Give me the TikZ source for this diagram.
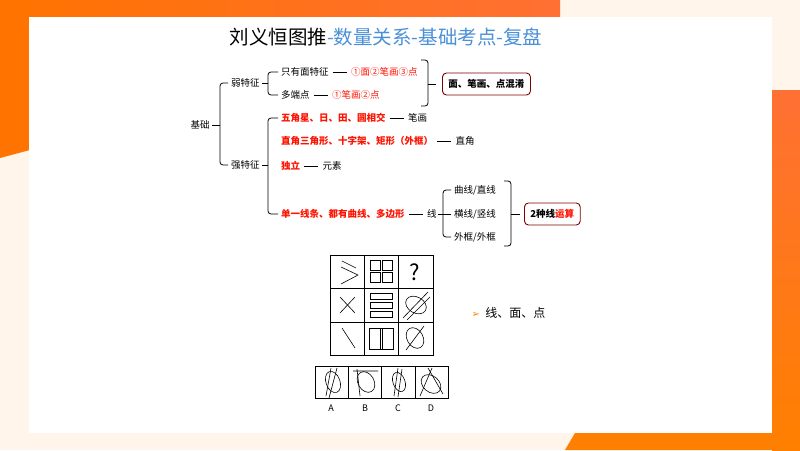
\documentclass[tikz,border=0pt]{standalone}
\usepackage{fontspec}
\setmainfont{Noto Sans CJK SC}
\newfontfamily\djv{DejaVu Sans}
\begin{document}
\begin{tikzpicture}[x=1pt,y=-1pt,
  t/.style={font=\fontsize{9.5}{11}\selectfont,inner sep=1pt,anchor=west},
  r/.style={t,text=red!85!orange},
  ln/.style={line width=0.7pt},
  br/.style={line width=0.8pt,rounded corners=3pt},
  sbox/.style={draw=red!50!black,line width=0.9pt,rounded corners=4pt,font=\fontsize{9.5}{11}\selectfont\bfseries,minimum height=22pt,inner xsep=6pt},
  g/.style={line width=0.9pt},
  fig/.style={line width=0.6pt}]
\useasboundingbox (0,0) rectangle (800,450);
\fill[orange!8] (0,0) rectangle (800,450);
\shade[left color=orange!90!red,right color=orange!60!red!80] (0,0) rectangle (560,17);
\fill[orange!90!red] (0,0) -- (30,0) -- (30,150) -- (0,158) -- cycle;
\fill[orange] (565,450) -- (800,450) -- (800,433) -- (575,433) -- cycle;
\shade[top color=orange!60!red!80,bottom color=orange] (772,90) rectangle (800,450);
\fill[white] (29,17) rectangle (772,433);
% title
\node (title) at (386,37) {\fontsize{19.5}{22}\selectfont 刘义恒图推\textcolor[HTML]{4A90D9}{-数量关系-基础考点-复盘}};
% mind map
\node[t,anchor=center] (jc) at (200,125) {基础};
\node[t] (rt) at (230,83) {弱特征};
\node[t] (qt) at (230,165) {强特征};
\draw[br] (212,125) -- (220,125);
\draw[br] (228,83) -| (220,165) -- (228,165);
% weak
\draw[br] (262,83) -- (268,83);
\draw[br] (278,72) -| (268,95) -- (278,95);
\node[t] (w1) at (280,72) {只有面特征};
\node[r] (w1r) at ([xshift=20pt]w1.east) {①面②笔画③点};
\draw[ln] ([xshift=3pt]w1.east) -- ([xshift=-3pt]w1r.west);
\node[t] (w2) at (280,95) {多端点};
\node[r] (w2r) at ([xshift=20pt]w2.east) {①笔画②点};
\draw[ln] ([xshift=3pt]w2.east) -- ([xshift=-3pt]w2r.west);
\draw[br] (421,60) -- (428,60) -- (428,106) -- (421,106);
\draw[br] (428,84) -- (436,84);
\node[sbox,anchor=west] (b1) at (442,84) {面、笔画、点混淆};
% strong
\draw[br] (262,165) -- (268,165);
\draw[br] (278,118) -| (268,214) -- (278,214);
\node[r] (s1) at (280,118) {\textbf{五角星、日、田、圆相交}};
\node[t] (s1b) at ([xshift=20pt]s1.east) {笔画};
\draw[ln] ([xshift=3pt]s1.east) -- ([xshift=-3pt]s1b.west);
\node[r] (s2) at (280,141) {\textbf{直角三角形、十字架、矩形（外框）}};
\node[t] (s2b) at ([xshift=20pt]s2.east) {直角};
\draw[ln] ([xshift=3pt]s2.east) -- ([xshift=-3pt]s2b.west);
\node[r] (s3) at (280,166) {\textbf{独立}};
\node[t] (s3b) at ([xshift=20pt]s3.east) {元素};
\draw[ln] ([xshift=3pt]s3.east) -- ([xshift=-3pt]s3b.west);
\node[r] (s4) at (280,214) {\textbf{单一线条、都有曲线、多边形}};
\node[t] (s4b) at ([xshift=20pt]s4.east) {线};
\draw[ln] ([xshift=3pt]s4.east) -- ([xshift=-3pt]s4b.west);
\draw[br] (s4b.east) -- (451,214);
\draw[br] (451,190) -| (443,237) -- (451,237);
\node[t] (l1) at (453,190) {曲线/直线};
\node[t] (l2) at (453,214) {横线/竖线};
\node[t] (l3) at (453,237) {外框/外框};
\draw[br] (504,181) -- (511,181) -- (511,246) -- (504,246);
\draw[br] (511,214) -- (520,214);
\node[sbox,anchor=west] (b2) at (524,214) {2种线\textcolor{red!85!orange}{运算}};
% grid
\draw[g] (330,255) rectangle (433,355);
\draw[g] (364,255) -- (364,355) (398,255) -- (398,355) (330,288) -- (433,288) (330,322) -- (433,322);
\draw[fig] (342,261) -- (356,268) (341,267) -- (358,275) -- (341,284);
\draw[fig] (370,260) rectangle (380,270) (382,260) rectangle (392,270) (370,272) rectangle (380,282) (382,272) rectangle (392,282);
\node (q) at (415,272) {\fontsize{22}{22}\selectfont ?};
\draw[fig] (340,297) -- (355,313) (355,297) -- (340,313);
\draw[fig] (370,293) rectangle (392,299) (370,302) rectangle (392,308) (370,311) rectangle (392,317);
\draw[fig,rotate around={-30:(416,305)}] (416,305) ellipse (11 and 8);
\draw[fig] (403,318) -- (428,292) (407,320) -- (430,297);
\draw[fig] (342,328) -- (355,348);
\draw[fig] (369,328) rectangle (393,349) (380,328) -- (380,349) (382,328) -- (382,349);
\draw[fig,rotate around={-60:(415,338)}] (415,338) ellipse (11 and 8);
\draw[fig] (406,350) -- (424,326);
% options
\draw[g] (315,366) rectangle (448,398);
\draw[g] (348,366) -- (348,398) (381,366) -- (381,398) (415,366) -- (415,398);
\draw[fig,rotate around={-70:(333,382)}] (333,382) ellipse (11 and 7);
\draw[fig] (326,396) -- (331,368) (329,398) -- (337,368);
\draw[fig,rotate around={-60:(366,382)}] (366,382) ellipse (11 and 8);
\draw[fig] (353,371) -- (378,371) (357,369) -- (360,396);
\draw[fig,rotate around={-70:(399,382)}] (399,382) ellipse (10 and 6);
\draw[fig] (394,396) -- (398,368) (398,397) -- (402,369);
\draw[fig,rotate around={-40:(431,384)}] (431,384) ellipse (11 and 8);
\draw[fig] (420,396) -- (432,368) (428,368) -- (443,394);
\node[font=\fontsize{9}{10}\selectfont] (oa) at (331,408) {A};
\node[font=\fontsize{9}{10}\selectfont] (ob) at (365,408) {B};
\node[font=\fontsize{9}{10}\selectfont] (oc) at (398,408) {C};
\node[font=\fontsize{9}{10}\selectfont] (od) at (431,408) {D};
\node[anchor=west,font=\fontsize{12}{14}\selectfont] (lmd) at (468,313) {\textcolor{orange}{\djv\fontsize{10}{12}\selectfont ➢}\ \ 线、面、点};
\end{tikzpicture}
\end{document}
